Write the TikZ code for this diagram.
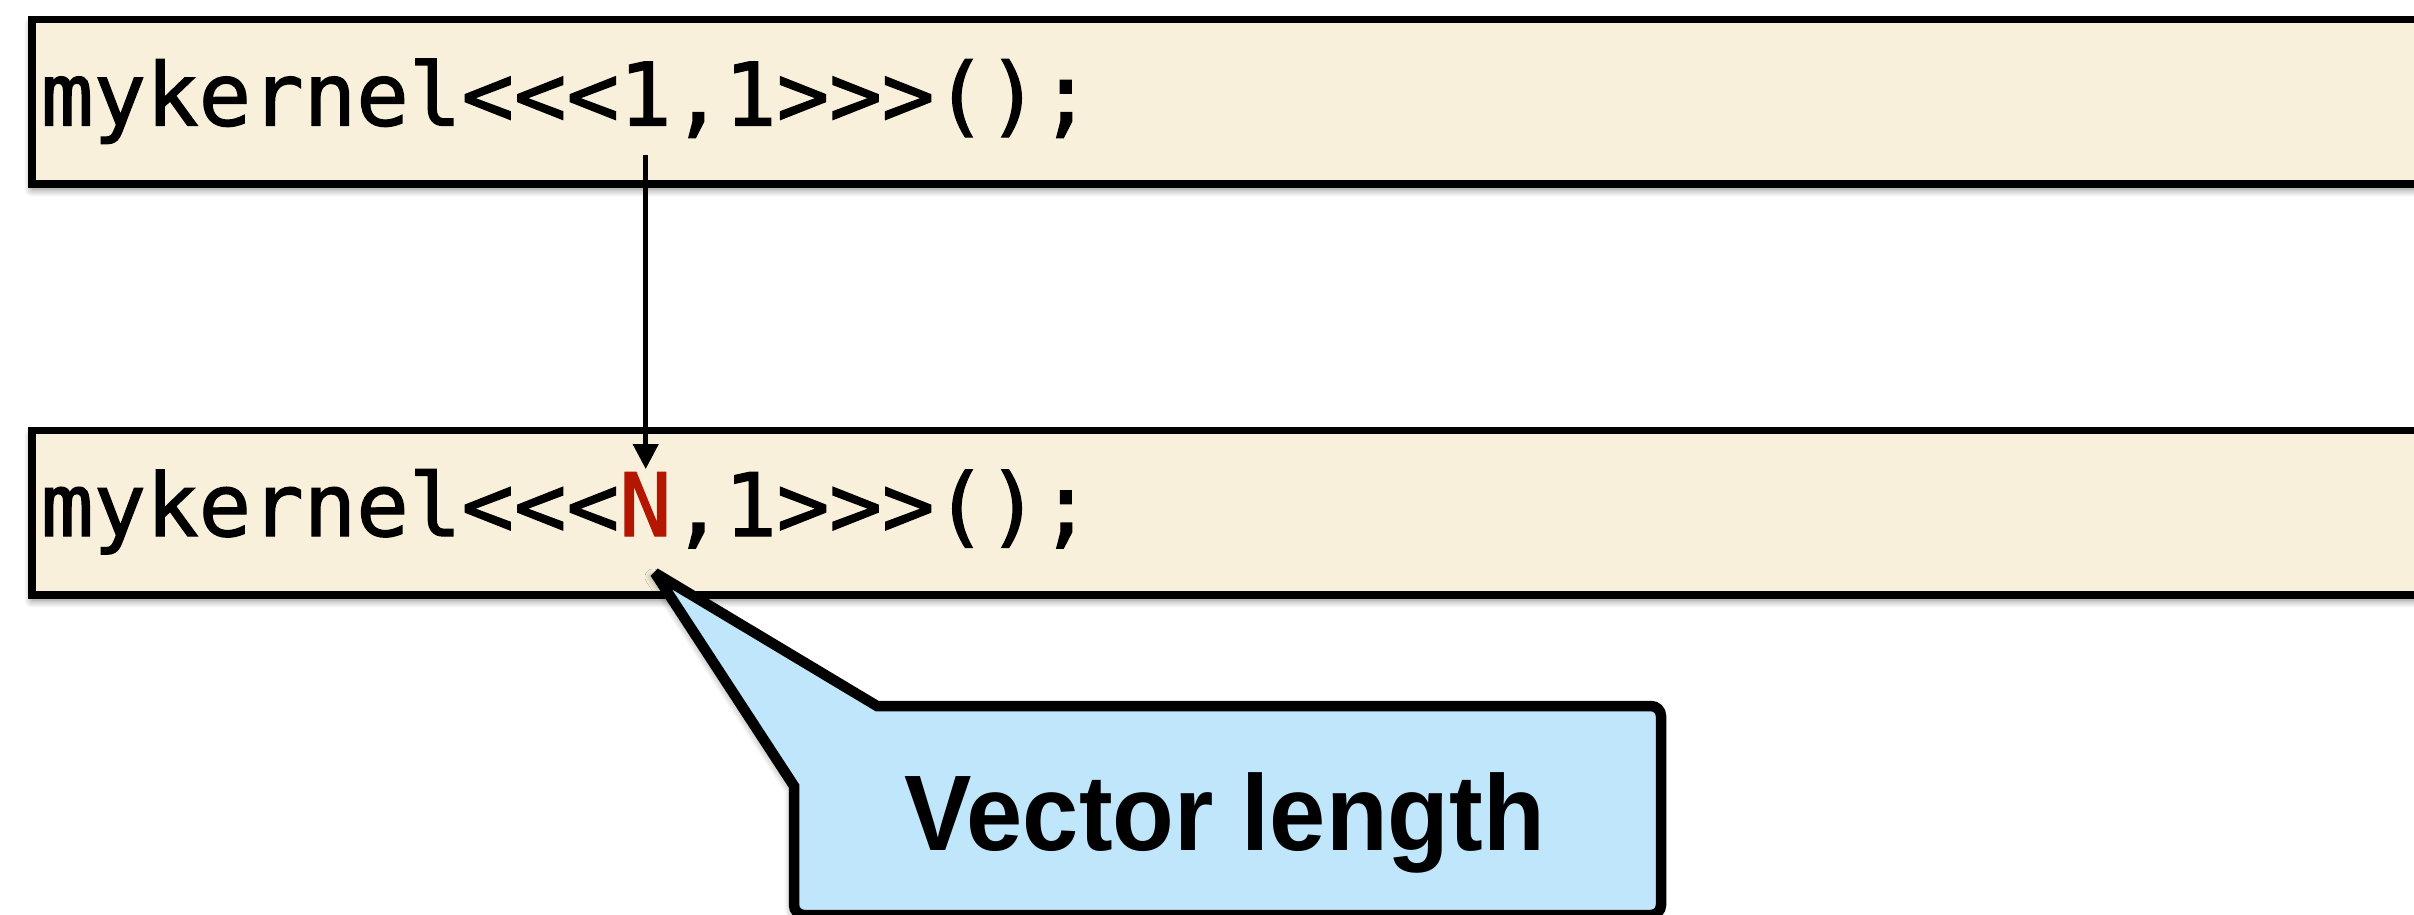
\documentclass[tikz,border=0pt]{standalone}
\usepackage{fontspec}
\setmainfont{Liberation Sans}
\setmonofont[FakeBold=1.5]{DejaVu Sans Mono}
\usetikzlibrary{arrows.meta,shadows.blur}

\definecolor{codebg}{RGB}{249,240,220}
\definecolor{notebg}{RGB}{191,230,251}
\definecolor{hilite}{RGB}{180,22,0}

\tikzset{
  codebox/.style={draw=black, line width=7.6pt, fill=codebg, rectangle,
    inner sep=0pt, outer sep=0pt, anchor=north west,
    minimum width=2440pt, minimum height=164.5pt,
    blur shadow={shadow xshift=0pt, shadow yshift=-5pt,
      shadow blur radius=8pt, shadow blur steps=14, shadow opacity=50}},
  codetext/.style={inner sep=0pt, outer sep=0pt, anchor=base west,
    font=\ttfamily\fontsize{87.3}{100}\selectfont},
  notebox/.style={draw=black, line width=10.5pt, fill=notebg,
    line join=miter, miter limit=3,
    blur shadow={shadow xshift=-2pt, shadow yshift=-4pt,
      shadow blur radius=8pt, shadow blur steps=14, shadow opacity=45}},
  notetext/.style={inner sep=0pt, anchor=base,
    font=\bfseries\fontsize{107.5}{120}\selectfont},
  pointer/.style={line width=4.5pt, -{Triangle[width=25pt,length=25pt]}}
}

\begin{document}
\begin{tikzpicture}[x=1pt, y=-1pt]
  \useasboundingbox (0,0) rectangle (2414,914);
  \clip (0,0) rectangle (2414,914);

  % the two code lines
  \node[codebox] (topbox) at (32,19.5) {};
  \node[codebox] (botbox) at (32,430.5) {};
  \node[codetext] (toptext) at (41,125.5) {mykernel<<<1,1>>>();};
  \node[codetext] (bottext) at (41,536) {mykernel<<<{\color{hilite}N},1>>>();};

  % the grid size that changes
  \coordinate (from) at (645.7,155);
  \coordinate (to) at (645.7,469);
  \draw[pointer] (from) -- (to);

  % speech bubble pointing at N
  \coordinate (tip) at (655,573);
  \coordinate (jointop) at (877,706);
  \coordinate (joinleft) at (794,786);
  \path[notebox] (jointop) [rounded corners=10pt] -- (1661,706) -- (1661,915)
    -- (794,915) [sharp corners] -- (joinleft) -- (tip) -- cycle;
  \node[notetext] (note) at (1225,850) {\scalebox{0.94}[1]{Vector length}};
\end{tikzpicture}
\end{document}
